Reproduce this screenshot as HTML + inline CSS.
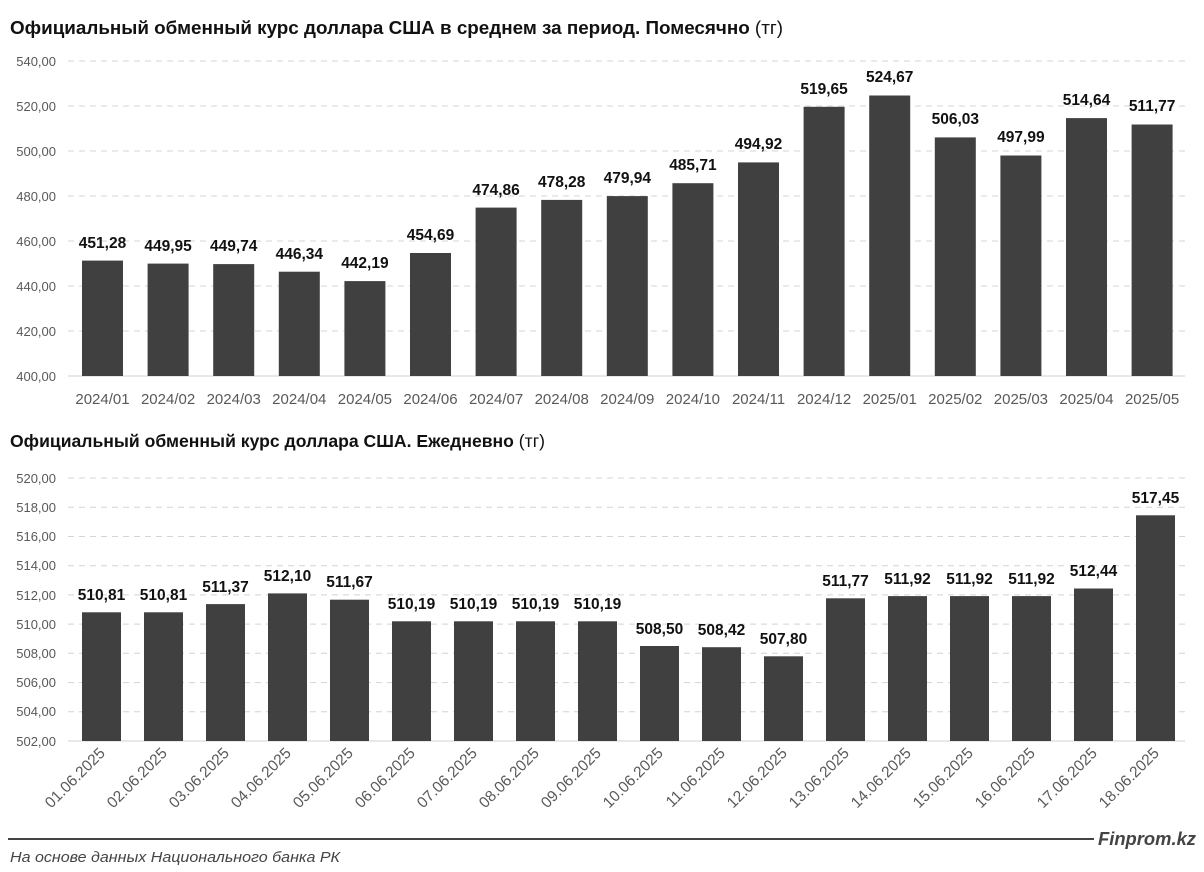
<!DOCTYPE html>
<html><head><meta charset="utf-8"><style>
body{margin:0;background:#fff;}
svg{display:block;font-family:"Liberation Sans",Arial,sans-serif;}
.t{font-weight:bold;fill:#111;}
.ax{font-size:13px;fill:#595959;}
.dl{font-size:15.5px;font-weight:bold;fill:#111;text-anchor:middle;}
.g{stroke:#d4d4d4;stroke-dasharray:6,5;stroke-width:1;}
.b{fill:#404040;}
</style></head><body>
<svg width="1204" height="872" viewBox="0 0 1204 872">
<text x="10" y="34" class="t" font-size="18" textLength="773" lengthAdjust="spacingAndGlyphs">Официальный обменный курс доллара США в среднем за период. Помесячно <tspan font-weight="normal">(тг)</tspan></text>
<g class="ax" text-anchor="end">
<text x="56" y="66">540,00</text><text x="56" y="111">520,00</text><text x="56" y="156">500,00</text><text x="56" y="201">480,00</text><text x="56" y="246">460,00</text><text x="56" y="291">440,00</text><text x="56" y="336">420,00</text><text x="56" y="381">400,00</text>
</g>
<g class="g"><line x1="68" x2="1185" y1="61" y2="61"/><line x1="68" x2="1185" y1="106" y2="106"/><line x1="68" x2="1185" y1="151" y2="151"/><line x1="68" x2="1185" y1="196" y2="196"/><line x1="68" x2="1185" y1="241" y2="241"/><line x1="68" x2="1185" y1="286" y2="286"/><line x1="68" x2="1185" y1="331" y2="331"/></g>
<line x1="68" x2="1185" y1="376" y2="376" stroke="#d0d0d0"/>
<g class="b">
<rect x="82" y="260.6" width="41" height="115.4"/><rect x="147.6" y="263.6" width="41" height="112.4"/><rect x="213.2" y="264.1" width="41" height="111.9"/><rect x="278.8" y="271.7" width="41" height="104.3"/><rect x="344.4" y="281.1" width="41" height="94.9"/><rect x="410" y="253" width="41" height="123"/><rect x="475.6" y="207.6" width="41" height="168.4"/><rect x="541.2" y="199.9" width="41" height="176.1"/><rect x="606.8" y="196.1" width="41" height="179.9"/><rect x="672.4" y="183.2" width="41" height="192.8"/><rect x="738" y="162.4" width="41" height="213.6"/><rect x="803.6" y="106.8" width="41" height="269.2"/><rect x="869.2" y="95.5" width="41" height="280.5"/><rect x="934.8" y="137.4" width="41" height="238.6"/><rect x="1000.4" y="155.5" width="41" height="220.5"/><rect x="1066" y="118.1" width="41" height="257.9"/><rect x="1131.6" y="124.5" width="41" height="251.5"/>
</g>
<g class="dl">
<text x="102.5" y="248">451,28</text><text x="168.1" y="251">449,95</text><text x="233.7" y="251">449,74</text><text x="299.3" y="259">446,34</text><text x="364.9" y="268">442,19</text><text x="430.5" y="240">454,69</text><text x="496.1" y="195">474,86</text><text x="561.7" y="187">478,28</text><text x="627.3" y="183">479,94</text><text x="692.9" y="170">485,71</text><text x="758.5" y="149">494,92</text><text x="824.1" y="94">519,65</text><text x="889.7" y="82">524,67</text><text x="955.3" y="124">506,03</text><text x="1020.9" y="142">497,99</text><text x="1086.5" y="105">514,64</text><text x="1152.1" y="111">511,77</text>
</g>
<g class="ax" text-anchor="middle" style="font-size:15px">
<text x="102.5" y="404">2024/01</text><text x="168.1" y="404">2024/02</text><text x="233.7" y="404">2024/03</text><text x="299.3" y="404">2024/04</text><text x="364.9" y="404">2024/05</text><text x="430.5" y="404">2024/06</text><text x="496.1" y="404">2024/07</text><text x="561.7" y="404">2024/08</text><text x="627.3" y="404">2024/09</text><text x="692.9" y="404">2024/10</text><text x="758.5" y="404">2024/11</text><text x="824.1" y="404">2024/12</text><text x="889.7" y="404">2025/01</text><text x="955.3" y="404">2025/02</text><text x="1020.9" y="404">2025/03</text><text x="1086.5" y="404">2025/04</text><text x="1152.1" y="404">2025/05</text>
</g>

<text x="10" y="447" class="t" font-size="17.5" textLength="535" lengthAdjust="spacingAndGlyphs">Официальный обменный курс доллара США. Ежедневно <tspan font-weight="normal">(тг)</tspan></text>
<g class="ax" text-anchor="end">
<text x="56" y="483">520,00</text><text x="56" y="512">518,00</text><text x="56" y="541">516,00</text><text x="56" y="570">514,00</text><text x="56" y="600">512,00</text><text x="56" y="629">510,00</text><text x="56" y="658">508,00</text><text x="56" y="687">506,00</text><text x="56" y="716">504,00</text><text x="56" y="746">502,00</text>
</g>
<g class="g"><line x1="68" x2="1185" y1="478" y2="478"/><line x1="68" x2="1185" y1="507.2" y2="507.2"/><line x1="68" x2="1185" y1="536.5" y2="536.5"/><line x1="68" x2="1185" y1="565.7" y2="565.7"/><line x1="68" x2="1185" y1="594.9" y2="594.9"/><line x1="68" x2="1185" y1="624.1" y2="624.1"/><line x1="68" x2="1185" y1="653.3" y2="653.3"/><line x1="68" x2="1185" y1="682.6" y2="682.6"/><line x1="68" x2="1185" y1="711.8" y2="711.8"/></g>
<line x1="68" x2="1185" y1="741" y2="741" stroke="#d0d0d0"/>
<g class="b">
<rect x="82" y="612.3" width="39" height="128.7"/><rect x="144" y="612.3" width="39" height="128.7"/><rect x="206" y="604.1" width="39" height="136.9"/><rect x="268" y="593.4" width="39" height="147.6"/><rect x="330" y="599.7" width="39" height="141.3"/><rect x="392" y="621.3" width="39" height="119.7"/><rect x="454" y="621.3" width="39" height="119.7"/><rect x="516" y="621.3" width="39" height="119.7"/><rect x="578" y="621.3" width="39" height="119.7"/><rect x="640" y="646" width="39" height="95"/><rect x="702" y="647.2" width="39" height="93.8"/><rect x="764" y="656.3" width="39" height="84.7"/><rect x="826" y="598.3" width="39" height="142.7"/><rect x="888" y="596.1" width="39" height="144.9"/><rect x="950" y="596.1" width="39" height="144.9"/><rect x="1012" y="596.1" width="39" height="144.9"/><rect x="1074" y="588.5" width="39" height="152.5"/><rect x="1136" y="515.3" width="39" height="225.7"/>
</g>
<g class="dl">
<text x="101.5" y="600">510,81</text><text x="163.5" y="600">510,81</text><text x="225.5" y="592">511,37</text><text x="287.5" y="581">512,10</text><text x="349.5" y="587">511,67</text><text x="411.5" y="609">510,19</text><text x="473.5" y="609">510,19</text><text x="535.5" y="609">510,19</text><text x="597.5" y="609">510,19</text><text x="659.5" y="634">508,50</text><text x="721.5" y="635">508,42</text><text x="783.5" y="644">507,80</text><text x="845.5" y="586">511,77</text><text x="907.5" y="584">511,92</text><text x="969.5" y="584">511,92</text><text x="1031.5" y="584">511,92</text><text x="1093.5" y="576">512,44</text><text x="1155.5" y="503">517,45</text>
</g>
<g class="ax" text-anchor="end" style="font-size:15.5px">
<text transform="translate(106,754) rotate(-45)">01.06.2025</text><text transform="translate(168,754) rotate(-45)">02.06.2025</text><text transform="translate(230,754) rotate(-45)">03.06.2025</text><text transform="translate(292,754) rotate(-45)">04.06.2025</text><text transform="translate(354,754) rotate(-45)">05.06.2025</text><text transform="translate(416,754) rotate(-45)">06.06.2025</text><text transform="translate(478,754) rotate(-45)">07.06.2025</text><text transform="translate(540,754) rotate(-45)">08.06.2025</text><text transform="translate(602,754) rotate(-45)">09.06.2025</text><text transform="translate(664,754) rotate(-45)">10.06.2025</text><text transform="translate(726,754) rotate(-45)">11.06.2025</text><text transform="translate(788,754) rotate(-45)">12.06.2025</text><text transform="translate(850,754) rotate(-45)">13.06.2025</text><text transform="translate(912,754) rotate(-45)">14.06.2025</text><text transform="translate(974,754) rotate(-45)">15.06.2025</text><text transform="translate(1036,754) rotate(-45)">16.06.2025</text><text transform="translate(1098,754) rotate(-45)">17.06.2025</text><text transform="translate(1160,754) rotate(-45)">18.06.2025</text>
</g>
<line x1="8" x2="1094" y1="839" y2="839" stroke="#444" stroke-width="2"/>
<text x="1098" y="845" font-size="18" font-weight="bold" font-style="italic" fill="#444" textLength="98" lengthAdjust="spacingAndGlyphs">Finprom.kz</text>
<text x="10" y="862" font-size="15" font-style="italic" fill="#444" textLength="330" lengthAdjust="spacingAndGlyphs">На основе данных Национального банка РК</text>
</svg>
</body></html>
